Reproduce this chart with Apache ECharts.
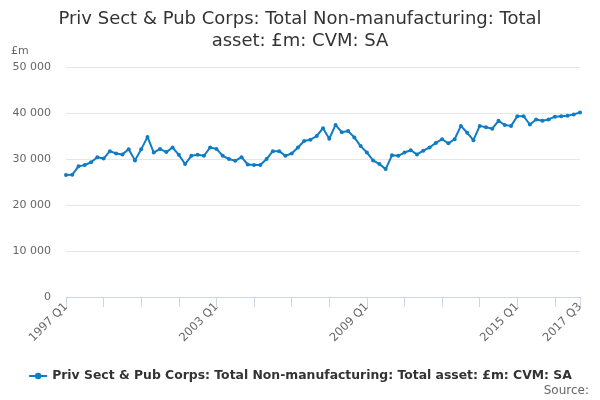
<!DOCTYPE html>
<html>
<head>
<meta charset="utf-8">
<script src="https://cdn.jsdelivr.net/npm/echarts@6/dist/echarts.min.js"></script>
<style>
html,body{margin:0;padding:0;background:#fff;}
#chart{width:600px;height:400px;}
</style>
</head>
<body>
<div id="chart"></div>
<script>
var startYear = 1997;
var quarterCount = 83;
var categories = [];
for (var i = 0; i < quarterCount; i++) {
  categories.push((startYear + Math.floor(i / 4)) + ' Q' + (i % 4 + 1));
}
var seriesName = 'Priv Sect & Pub Corps: Total Non-manufacturing: Total asset: £m: CVM: SA';
var values = [
  26500, 26600, 28400, 28700, 29300, 30400, 30100, 31700, 31200, 31000,
  32100, 29700, 32100, 34800, 31400, 32200, 31500, 32500, 30900, 28900,
  30700, 30900, 30700, 32500, 32200, 30700, 30000, 29600, 30400, 28800,
  28700, 28700, 30000, 31700, 31700, 30700, 31200, 32500, 33900, 34200,
  35000, 36700, 34400, 37400, 35800, 36100, 34700, 32800, 31400, 29700,
  28900, 27800, 30800, 30700, 31400, 31900, 31000, 31800, 32500, 33500,
  34300, 33400, 34300, 37200, 35700, 34100, 37200, 36900, 36600, 38300,
  37400, 37200, 39300, 39300, 37500, 38600, 38300, 38600, 39200, 39300,
  39400, 39700, 40100
];
var yTicks = [0, 10000, 20000, 30000, 40000, 50000];

var FONT = 'DejaVu Sans';
var chart = echarts.init(document.getElementById('chart'), null, {renderer: 'canvas'});
chart.setOption({
  animation: false,
  textStyle: {fontFamily: FONT},
  title: [
    {
      text: 'Priv Sect & Pub Corps: Total Non-manufacturing: Total\nasset: £m: CVM: SA',
      left: 'center', top: 3,
      textStyle: {fontSize: 18, fontWeight: 'normal', color: '#333', lineHeight: 22, fontFamily: FONT}
    },
    {
      text: '£m', left: 11, top: 46, padding: 0,
      textStyle: {fontSize: 11, fontWeight: 'normal', color: '#666', fontFamily: FONT}
    },
    {
      text: 'Source:', right: 11, top: 385, padding: 0,
      textStyle: {fontSize: 12, fontWeight: 'normal', color: '#666', fontFamily: FONT}
    }
  ],
  legend: {
    left: 'center', top: 365,
    itemWidth: 18, itemHeight: 8, itemGap: 5,
    textStyle: {fontSize: 12.4, fontWeight: 'bold', color: '#333', fontFamily: FONT},
    data: [seriesName]
  },
  grid: {left: 66, right: 20, top: 67, bottom: 103, containLabel: false},
  xAxis: {
    type: 'category',
    data: categories,
    boundaryGap: false,
    axisLine: {lineStyle: {color: '#ccd6eb', width: 1}},
    axisTick: {
      length: 10,
      lineStyle: {color: '#ccd6eb'},
      interval: function (idx) { return idx % 6 === 0 || idx === quarterCount - 1; }
    },
    axisLabel: {
      rotate: 45,
      color: '#666', fontSize: 11.5, fontFamily: FONT,
      margin: 8,
      interval: function (idx) { return idx % 24 === 0 || idx === quarterCount - 1; }
    },
    splitLine: {show: false}
  },
  yAxis: {
    type: 'value',
    min: yTicks[0], max: yTicks[yTicks.length - 1], interval: yTicks[1] - yTicks[0],
    axisLine: {show: false},
    axisTick: {show: false},
    axisLabel: {
      color: '#666', fontSize: 11, fontFamily: FONT, margin: 15,
      formatter: function (v) { return String(v).replace(/\B(?=(\d{3})+(?!\d))/g, ' '); }
    },
    splitLine: {lineStyle: {color: '#e6e6e6', width: 1}}
  },
  series: [{
    name: seriesName,
    type: 'line',
    data: values,
    symbol: 'circle',
    symbolSize: 4,
    showSymbol: true,
    color: '#0f7cc4',
    lineStyle: {width: 2, color: '#0f7cc4'},
    itemStyle: {color: '#0f7cc4'}
  }]
});
</script>
</body>
</html>
